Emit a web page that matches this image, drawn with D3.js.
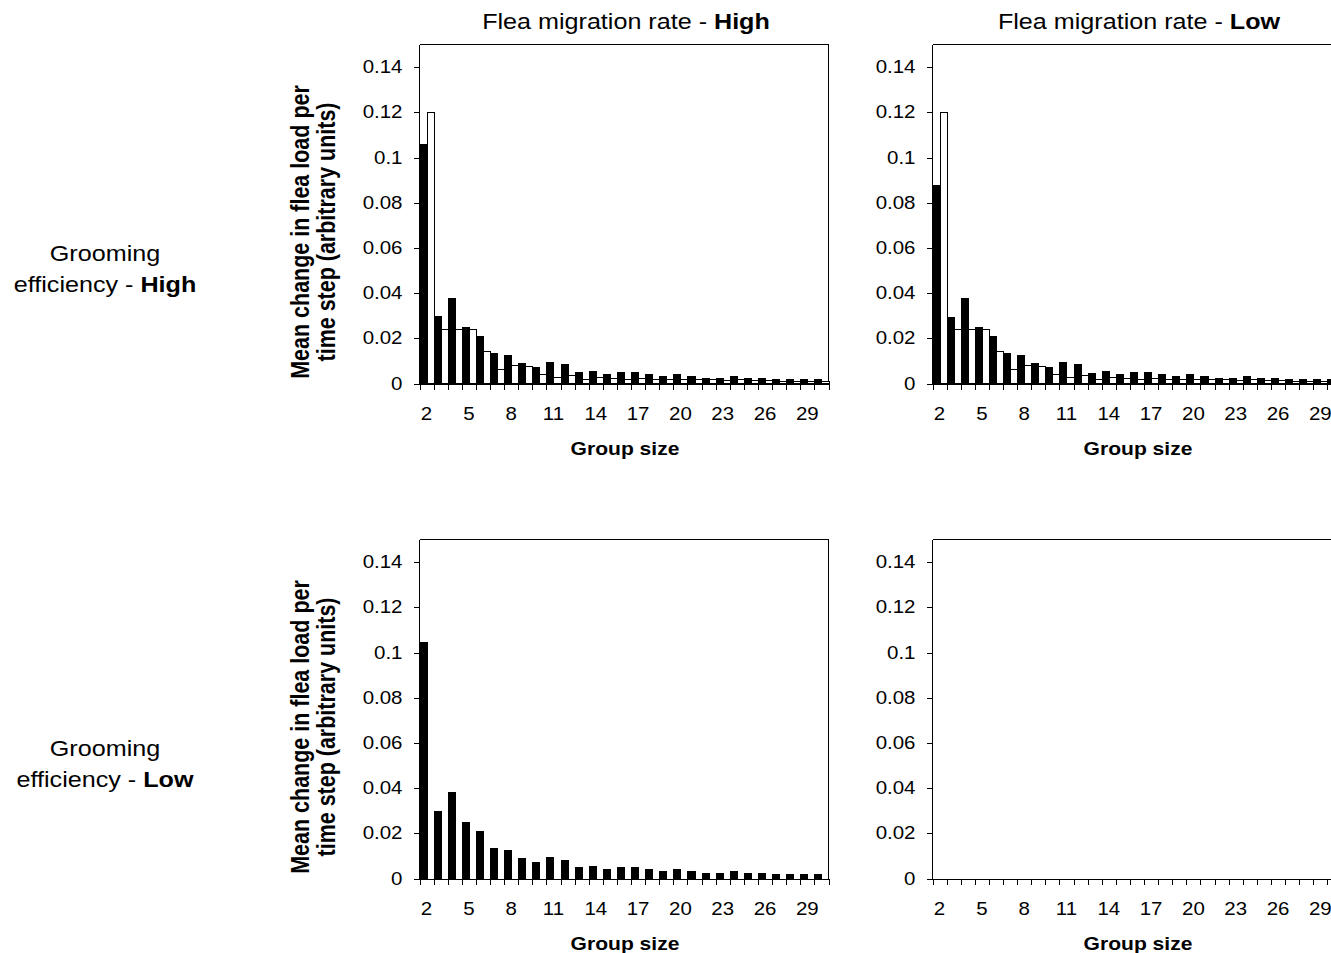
<!DOCTYPE html>
<html>
<head>
<meta charset="utf-8">
<script src="https://cdn.jsdelivr.net/npm/d3@7"></script>
<style>
  html, body { margin: 0; padding: 0; background: #fff; }
  svg { display: block; }
  text { font-family: "Liberation Sans", Arial, sans-serif; fill: #000; }
</style>
</head>
<body>
<svg id="chart" width="1331" height="953"></svg>
<script>
// ---------------- DATA ----------------
const categories = [2,3,4,5,6,7,8,9,10,11,12,13,14,15,16,17,18,19,20,21,22,23,24,25,26,27,28,29,30];
const xTickLabels = [2,5,8,11,14,17,20,23,26,29];
const yTickValues = [0,0.02,0.04,0.06,0.08,0.1,0.12,0.14];
const yTickLabels = ["0","0.02","0.04","0.06","0.08","0.1","0.12","0.14"];

const columnTitles = ["High", "Low"];
const rowTitles = ["High", "Low"];

// Flea migration High, grooming efficiency High
const highMigHighGroomBlack = [0.106,0.030,0.038,0.025,0.021,0.0137,0.0127,0.0090,0.0073,0.0097,0.0086,0.0049,0.0055,0.0044,0.0049,0.0049,0.0043,0.0031,0.0043,0.0031,0.0026,0.0025,0.0031,0.0025,0.0025,0.0021,0.0021,0.0021,0.0021];
const highMigHighGroomWhite = [0.120,0.024,0.024,0.024,0.0143,0.0065,0.0084,0.0078,0.0044,0.0030,0.0039,0.0018,0.0028,0.0023,0.0022,0.0025,0.0022,0.0020,0.0022,0.0020,0.0018,0.0016,0.0018,0.0015,0.0015,0.0013,0.0013,0.0012,0.0012];
// Flea migration Low, grooming efficiency High
const lowMigHighGroomBlack = [0.088,0.0295,0.038,0.025,0.021,0.0137,0.0125,0.0090,0.0072,0.0096,0.0086,0.0048,0.0056,0.0043,0.0049,0.0049,0.0043,0.0031,0.0043,0.0031,0.0025,0.0025,0.0031,0.0025,0.0025,0.0021,0.0021,0.0021,0.0021];
const lowMigHighGroomWhite = [0.120,0.024,0.024,0.024,0.0142,0.0066,0.0084,0.0078,0.0044,0.0030,0.0038,0.0019,0.0028,0.0023,0.0022,0.0025,0.0022,0.0020,0.0022,0.0020,0.0018,0.0016,0.0018,0.0015,0.0015,0.0013,0.0013,0.0012,0.0012];
// Flea migration High, grooming efficiency Low
const highMigLowGroomBlack = [0.1045,0.030,0.0384,0.0248,0.0208,0.0137,0.0127,0.0090,0.0074,0.0096,0.0084,0.0049,0.0055,0.0043,0.0049,0.0049,0.0043,0.0031,0.0043,0.0031,0.0026,0.0025,0.0031,0.0025,0.0025,0.0021,0.0021,0.0021,0.0021];
// Flea migration Low, grooming efficiency Low: no bars drawn

// ---------------- LAYOUT ----------------
const SX = 1.17; // horizontal stretch of the original picture's text
const plotW = 409;
const panels = [
  { x0: 419.5, yTop: 44.5,  yZero: 383.5, black: highMigHighGroomBlack, white: highMigHighGroomWhite },
  { x0: 932.5, yTop: 44.5,  yZero: 383.5, black: lowMigHighGroomBlack,  white: lowMigHighGroomWhite },
  { x0: 419.5, yTop: 539.5, yZero: 878.5, black: highMigLowGroomBlack,  white: null },
  { x0: 932.5, yTop: 539.5, yZero: 878.5, black: null,                  white: null }
];

const svg = d3.select("#chart");

function stretch(sel) {
  sel.each(function() {
    const t = d3.select(this);
    const x = parseFloat(t.attr("x")) || 0;
    t.attr("transform", `translate(${x * (1 - SX)},0) scale(${SX},1)`);
  });
}

panels.forEach(p => {
  const g = svg.append("g");
  const x = d3.scaleBand().domain(categories).range([p.x0, p.x0 + plotW]).padding(0);
  const xEdge = d3.scaleLinear().domain([categories[0] - 0.5, categories[categories.length - 1] + 0.5]).range([p.x0, p.x0 + plotW]);
  const y = d3.scaleLinear().domain([0, 0.15]).range([p.yZero, p.yTop]);
  const bw = x.bandwidth() / 2;

  // frame (top & right)
  g.append("path")
    .attr("d", `M${p.x0},${p.yTop}H${p.x0 + plotW}V${p.yZero}`)
    .attr("fill", "none").attr("stroke", "#000").attr("stroke-width", 1)
    .attr("shape-rendering", "crispEdges");

  // white bars
  if (p.white) {
    g.selectAll("rect.w").data(categories.map((c, i) => ({ c, v: p.white[i] })))
      .enter().append("rect").attr("class", "w")
      .attr("x", d => Math.round(x(d.c) + bw) + 0.5)
      .attr("width", d => Math.round(x(d.c) + 2 * bw) - Math.round(x(d.c) + bw))
      .attr("y", d => Math.round(y(d.v)) + 0.5)
      .attr("height", d => Math.max(0, p.yZero - Math.round(y(d.v)) - 0.5))
      .attr("fill", "#fff").attr("stroke", "#000").attr("stroke-width", 1)
      .attr("shape-rendering", "crispEdges");
  }
  // black bars
  if (p.black) {
    g.selectAll("rect.b").data(categories.map((c, i) => ({ c, v: p.black[i] })))
      .enter().append("rect").attr("class", "b")
      .attr("x", d => Math.round(x(d.c)) + 0.5)
      .attr("width", d => Math.round(x(d.c) + bw) - Math.round(x(d.c)))
      .attr("y", d => Math.round(y(d.v)) + 0.5)
      .attr("height", d => Math.max(0, p.yZero - Math.round(y(d.v)) - 0.5))
      .attr("fill", "#000").attr("stroke", "#000").attr("stroke-width", 1)
      .attr("shape-rendering", "crispEdges");
  }

  // x tick marks at category boundaries
  const edges = d3.range(categories.length + 1).map(i => categories[0] - 0.5 + i);
  const xa = g.append("g").attr("transform", `translate(0,${p.yZero})`)
    .call(d3.axisBottom(xEdge).tickValues(edges).tickFormat("").tickSize(6).tickSizeOuter(0));
  xa.selectAll("line").attr("stroke", "#000").attr("shape-rendering", "crispEdges");
  xa.select(".domain").attr("stroke", "#000").attr("shape-rendering", "crispEdges");

  // x labels
  const xl = g.append("g").attr("transform", `translate(0,${p.yZero})`)
    .call(d3.axisBottom(x).tickValues(xTickLabels).tickSize(0).tickPadding(24));
  xl.select(".domain").remove();
  xl.selectAll("text").attr("font-size", "17.5px").attr("fill", "#111")
    .attr("font-family", "Liberation Sans, Arial, sans-serif");
  stretch(xl.selectAll("text"));

  // y axis
  const ya = g.append("g").attr("transform", `translate(${p.x0},0)`)
    .call(d3.axisLeft(y).tickValues(yTickValues).tickFormat((d, i) => yTickLabels[i]).tickSize(6).tickSizeOuter(0).tickPadding(11));
  ya.select(".domain").attr("stroke", "#000").attr("d", `M0,${p.yTop}V${p.yZero}`).attr("shape-rendering", "crispEdges");
  ya.selectAll("line").attr("stroke", "#000").attr("shape-rendering", "crispEdges");
  ya.selectAll("text").attr("font-size", "17.5px").attr("fill", "#111")
    .attr("font-family", "Liberation Sans, Arial, sans-serif");
  stretch(ya.selectAll("text"));

  // x title
  const gs = g.append("text")
    .attr("x", p.x0 + plotW / 2 + 1).attr("y", p.yZero + 72)
    .attr("text-anchor", "middle").attr("font-size", "18px").attr("font-weight", "bold")
    .text("Group size");
  stretch(gs);

  // y title (only left column)
  if (p.x0 < 600) {
    const cy = (p.yTop + p.yZero) / 2 + 18;
    [["Mean change in flea load per", 309], ["time step (arbitrary units)", 335]].forEach(([t, bx]) => {
      g.append("text")
        .attr("transform", `translate(${bx},${cy}) scale(${SX},1) rotate(-90)`)
        .attr("text-anchor", "middle").attr("font-size", "21.5px").attr("font-weight", "bold")
        .text(t);
    });
  }
});

// column titles
[0, 1].forEach(i => {
  const p = panels[i];
  const t = svg.append("text")
    .attr("x", p.x0 + plotW / 2 + 2).attr("y", 29)
    .attr("text-anchor", "middle").attr("font-size", "21.5px");
  t.append("tspan").text("Flea migration rate - ");
  t.append("tspan").attr("font-weight", "bold").text(columnTitles[i]);
  stretch(t);
});

// row titles
[0, 1].forEach(i => {
  const p = panels[i * 2];
  const base = (p.yTop + p.yZero) / 2 + 48;
  const t1 = svg.append("text").attr("x", 105).attr("y", base - 1)
    .attr("text-anchor", "middle").attr("font-size", "21.5px").text("Grooming");
  stretch(t1);
  const t2 = svg.append("text").attr("x", 105).attr("y", base + 30)
    .attr("text-anchor", "middle").attr("font-size", "21.5px");
  t2.append("tspan").text("efficiency - ");
  t2.append("tspan").attr("font-weight", "bold").text(rowTitles[i]);
  stretch(t2);
});
</script>
</body>
</html>
